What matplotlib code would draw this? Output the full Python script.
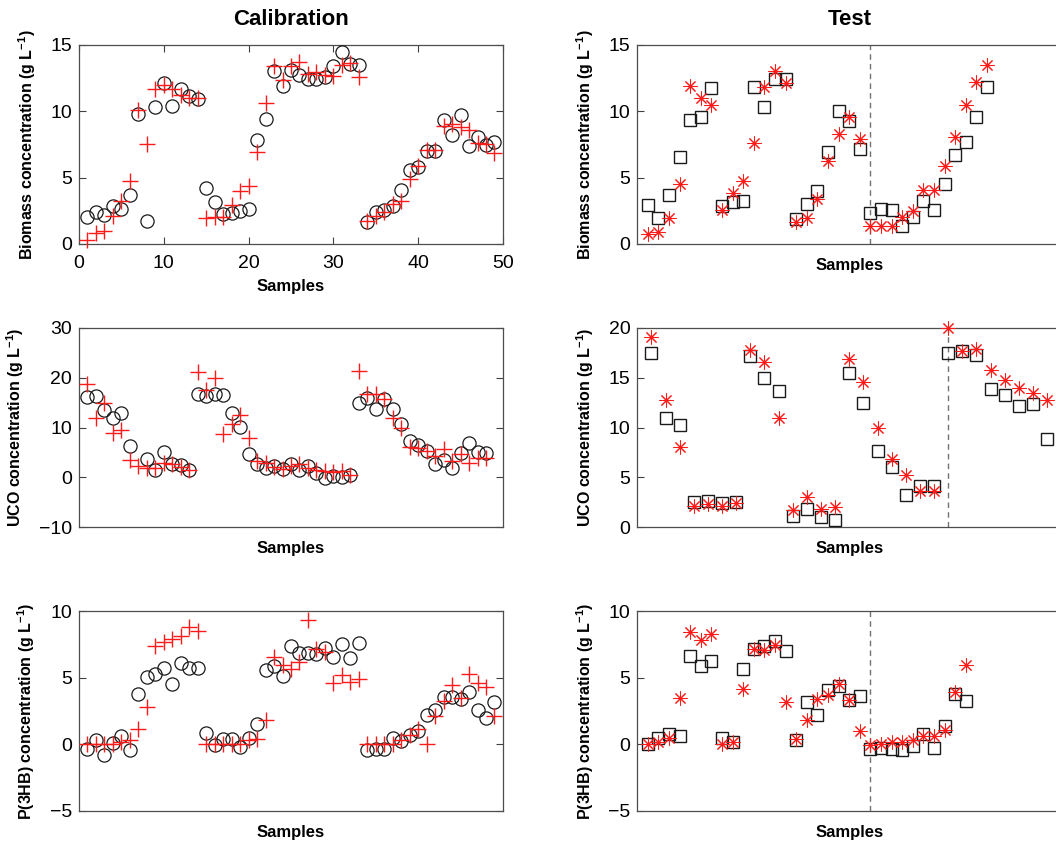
import matplotlib.pyplot as plt
import numpy as np

plt.rcParams['font.family'] = ['Liberation Sans', 'DejaVu Sans']
plt.rcParams['mathtext.fontset'] = 'custom'
plt.rcParams['mathtext.rm'] = 'Liberation Sans'
plt.rcParams['mathtext.bf'] = 'Liberation Sans:bold'

# Calibration set: reference values (circles) and model predictions (crosses)
bio_cal_ref = [2.0, 2.4, 2.2, 2.85, 2.6, 3.65, 9.75, 1.76, 10.3, 12.1,
               10.4, 11.65, 11.1, 10.9, 4.2, 3.15, 2.27, 2.3, 2.45, 2.6,
               7.85, 9.4, 13.0, 11.9, 13.1, 12.75, 12.4, 12.4, 12.55, 13.4,
               14.47, 13.55, 13.5, 1.64, 2.37, 2.57, 2.85, 4.03, 5.54, 5.8,
               7.0, 7.0, 9.3, 8.23, 9.7, 7.35, 8.05, 7.42, 7.65]
bio_cal_pred = [0.33, 0.83, 1.0, 2.1, 3.2, 4.73, 10.1, 7.5, 11.68, 12.0,
                11.68, 11.2, 11.0, 11.0, 1.94, 2.0, 2.06, 2.92, 3.95, 4.4,
                6.9, 10.6, 13.4, 12.33, 13.4, 13.7, 12.8, 12.96, 12.68, 12.63,
                13.5, 13.6, 12.6, 1.7, 2.1, 2.37, 3.0, 3.27, 4.86, 5.9,
                7.1, 7.05, 8.9, 9.0, 8.8, 8.6, 7.6, 7.55, 6.87]

uco_cal_ref = [16.13, 16.27, 13.47, 12.0, 12.87, 6.27, np.nan, 3.8, 1.53, 5.13,
               2.67, 2.47, 1.53, 16.67, 16.33, 16.67, 16.47, 13.0, 10.13, 4.67,
               2.67, 1.87, 2.33, 1.8, 2.67, 1.6, 2.33, 0.93, -0.13, 0.33,
               0.0, 0.53, 14.93, 16.0, 13.8, 15.67, 13.67, 10.8, 7.33, 6.53,
               5.33, 2.8, 3.6, 2.0, 5.0, 6.87, 5.13, 4.93]
uco_cal_pred = [18.8, 12.0, 15.0, 9.0, 9.47, 3.53, 2.33, 2.0, 2.0, 2.87,
                2.67, 2.13, 1.6, 21.2, 17.47, 20.0, 8.8, 10.8, 12.53, 8.0,
                3.33, 3.0, 2.13, 1.67, 2.33, 2.67, 1.87, 1.53, 1.33, 1.13,
                1.33, 0.53, 21.33, 16.8, 16.67, 15.67, 12.0, 9.87, 6.2, 6.0,
                5.33, 4.33, 5.67, 3.33, 4.8, 3.0, 3.87, 3.87]

phb_cal_ref = [-0.32, 0.3, -0.82, 0.1, 0.6, -0.45, 3.79, 5.04, 5.26, 5.76,
               4.51, 6.13, 5.76, 5.76, 0.85, -0.07, 0.4, 0.42, -0.2, 0.47,
               1.52, 5.59, 5.89, 5.14, 7.41, 6.88, 6.88, 6.83, 7.28, 6.58,
               7.53, 6.53, 7.63, -0.4, -0.32, -0.32, 0.47, 0.22, 0.72, 0.97,
               2.22, 2.59, 3.59, 3.59, 3.42, 3.92, 2.59, 1.97, 3.17]
phb_cal_pred = [0.0, 0.0, 0.0, 0.0, 0.2, 0.3, 1.15, 2.84, 7.38, 7.71,
                7.96, 8.13, 8.83, 8.53, 0.0, 0.0, 0.0, 0.0, 0.0, 0.3,
                0.4, 1.85, 6.58, 5.96, 5.66, 6.16, 9.33, 7.16, 6.91, 4.59,
                5.21, 4.66, 4.91, 0.0, 0.0, 0.0, 0.02, 0.3, 0.67, 1.17,
                0.0, 2.1, 3.27, 4.46, 3.47, 5.29, 4.59, 4.34, 2.1]

# Test set: reference values (squares) and model predictions (asterisks)
bio_test_ref = [2.96, 1.98, 3.66, 6.57, 9.33, 9.56, 11.71, 2.86, 3.16, 3.25,
                11.79, 10.33, 12.39, 12.41, 1.86, 3.0, 4.0, 6.92, 10.03, 9.28,
                7.12, 2.33, 2.63, 2.56, 1.35, 2.0, 3.21, 2.56, 4.51, 6.7,
                7.67, 9.56, 11.79]
bio_test_pred = [0.78, 0.88, 1.98, 4.49, 11.89, 11.01, 10.43, 2.53, 3.86, 4.77,
                 7.62, 11.84, 13.02, 12.09, 1.68, 1.98, 3.41, 6.27, 8.28, 9.58,
                 7.93, 1.35, 1.35, 1.35, 2.06, 2.48, 4.06, 4.06, 5.87, 8.03,
                 10.43, 12.16, 13.44]

uco_test_ref = [17.46, 10.97, 10.3, 2.54, 2.68, 2.44, 2.54, 17.19, 14.98, 13.71,
                1.14, 1.81, 1.07, 0.74, 15.52, 12.51, 7.63, 6.02, 3.28, 4.11,
                4.11, 17.46, 17.73, 17.32, 13.88, 13.24, 12.17, 12.37, 8.9]
uco_test_pred = [19.13, 12.74, 8.03, 2.17, 2.34, 2.17, 2.41, 17.79, 16.56, 10.94,
                 1.77, 3.01, 1.84, 2.04, 16.92, 14.62, 9.97, 6.86, 5.28, 3.61,
                 3.68, 20.0, 17.73, 17.86, 15.82, 14.82, 13.98, 13.48, 12.78]

phb_test_ref = [0.0, 0.5, 0.75, 0.6, 6.65, 5.9, 6.3, 0.5, 0.2, 5.7,
                7.2, 7.37, 7.8, 7.05, 0.3, 3.17, 2.2, 4.1, 4.35, 3.3,
                3.6, -0.35, -0.25, -0.35, -0.45, -0.15, 0.75, -0.3, 1.4, 3.75,
                3.25]
phb_test_pred = [0.05, 0.2, 0.45, 3.5, 8.45, 7.88, 8.33, 0.05, 0.2, 4.13,
                 7.2, 7.13, 7.5, 3.2, 0.4, 1.8, 3.38, 3.7, 4.55, 3.3,
                 1.0, -0.05, 0.05, 0.2, 0.18, 0.3, 0.6, 0.65, 1.05, 3.9,
                 6.0]

# sample where the second test batch starts
test_split = 22

bio_label = r'Biomass concentration (g L$^{\mathbf{-1}}$)'
uco_label = r'UCO concentration (g L$^{\mathbf{-1}}$)'
phb_label = r'P(3HB) concentration (g L$^{\mathbf{-1}}$)'

REF_STYLE = dict(linestyle='none', markerfacecolor='none',
                 markeredgecolor='0.1', clip_on=False, zorder=3)
PRED_STYLE = dict(linestyle='none', color='#ff1a1a', clip_on=False, zorder=4)


def style_axes(ax, ylim, yticks, ylabel, xlim, xticks=None, right=True):
    ax.set_xlim(*xlim)
    ax.set_ylim(*ylim)
    ax.set_yticks(yticks)
    if xticks is None:
        ax.set_xticks([])
        ax.set_xlabel('Samples', fontsize=12, fontweight='bold', labelpad=10)
    else:
        ax.set_xticks(xticks)
        ax.set_xlabel('Samples', fontsize=12, fontweight='bold', labelpad=5)
    ax.set_ylabel(ylabel, fontsize=11.5, fontweight='bold', labelpad=9)
    ax.tick_params(direction='in', length=5, width=0.8, labelsize=14,
                   top=True, right=right, color='0.25')
    ax.tick_params(axis='y', pad=5)
    ax.tick_params(axis='x', pad=8)
    for spine in ax.spines.values():
        spine.set_color('0.3')
        spine.set_linewidth(0.9)
    # the test panels run off the right edge of the figure
    ax.spines['right'].set_visible(right)


def draw_calibration(ax, ref, pred):
    samples = np.arange(1, len(ref) + 1)
    ax.plot(samples, ref, marker='o', markersize=9.5,
            markeredgewidth=0.9, **REF_STYLE)
    ax.plot(samples, pred, marker='+', markersize=11,
            markeredgewidth=1.0, **PRED_STYLE)


def draw_test(ax, ref, pred):
    samples = np.arange(1, len(ref) + 1)
    ax.axvline(test_split, color='0.45', linestyle='--', linewidth=1.0,
               dashes=(4, 3), zorder=1)
    ax.plot(samples, ref, marker='s', markersize=8,
            markeredgewidth=1.0, **REF_STYLE)
    ax.plot(samples, pred, marker=(8, 2, 0), markersize=10,
            markeredgewidth=0.75, **PRED_STYLE)


fig = plt.figure(figsize=(10.56, 8.41), dpi=100)

col_left = [0.0748, 0.6035]
width = 0.4015
row_bottom = [0.7099, 0.373, 0.036]
height = 0.237

axes = [[fig.add_axes([x, y, width, height]) for x in col_left]
        for y in row_bottom]

draw_calibration(axes[0][0], bio_cal_ref, bio_cal_pred)
style_axes(axes[0][0], (0, 15), [0, 5, 10, 15], bio_label, (0, 50),
           xticks=[0, 10, 20, 30, 40, 50])
axes[0][0].set_title('Calibration', fontsize=16, fontweight='bold', pad=14)

draw_calibration(axes[1][0], uco_cal_ref, uco_cal_pred)
style_axes(axes[1][0], (-10, 30), [-10, 0, 10, 20, 30], uco_label, (0, 50))

draw_calibration(axes[2][0], phb_cal_ref, phb_cal_pred)
style_axes(axes[2][0], (-5, 10), [-5, 0, 5, 10], phb_label, (0, 50))

draw_test(axes[0][1], bio_test_ref, bio_test_pred)
style_axes(axes[0][1], (0, 15), [0, 5, 10, 15], bio_label, (0, 40),
           right=False)
axes[0][1].set_title('Test', fontsize=16, fontweight='bold', pad=14)

draw_test(axes[1][1], uco_test_ref, uco_test_pred)
style_axes(axes[1][1], (0, 20), [0, 5, 10, 15, 20], uco_label, (0, 30),
           right=False)

draw_test(axes[2][1], phb_test_ref, phb_test_pred)
style_axes(axes[2][1], (-5, 10), [-5, 0, 5, 10], phb_label, (0, 40),
           right=False)

fig.savefig('out.png', dpi=100)
